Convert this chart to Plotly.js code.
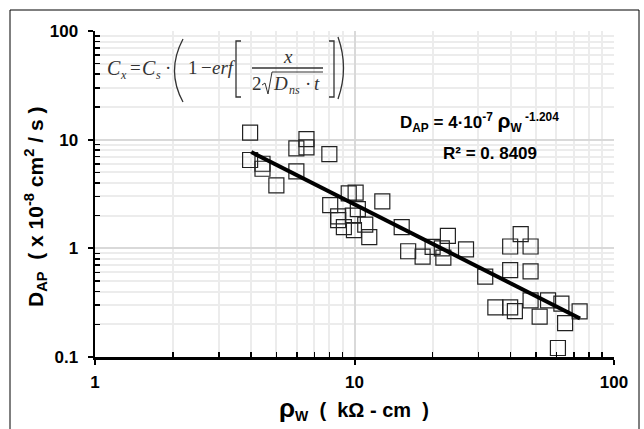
<!DOCTYPE html>
<html><head><meta charset="utf-8">
<script src="https://cdn.plot.ly/plotly-3.0.1.min.js"></script>
<style>html,body{margin:0;padding:0;background:#fff}#chart{width:644px;height:429px}</style>
</head><body><div id="chart"></div>
<script>
// ---- data ----
const rhoW = [3.96,3.96,4.42,4.42,5.0,5.97,5.97,6.53,6.53,8.0,8.06,8.65,8.65,9.1,9.5,10.1,9.85,10.3,9.95,11.0,11.4,12.8,15.2,16.1,18.3,20.0,21.7,22.0,22.9,26.9,31.9,34.9,39.8,39.8,39.8,41.5,43.7,47.7,47.7,47.7,51.7,55.7,60.8,62.7,64.8,73.7];
const dAP  = [11.6,6.5,6.0,5.4,3.8,8.3,5.1,10.1,8.5,7.35,2.5,1.97,1.82,1.57,3.2,3.25,2.0,2.3,1.47,1.65,1.27,2.7,1.57,0.94,0.84,1.03,1.0,0.82,1.3,0.98,0.55,0.286,1.04,0.63,0.286,0.264,1.35,1.04,0.615,0.332,0.235,0.332,0.121,0.31,0.205,0.263];
const trendX = [4.0, 74.0];
const trendY = [7.7, 0.226];
const xTickVals = [1, 10, 100];
const xTickText = ['1', '10', '100'];
const yTickVals = [0.1, 1, 10, 100];
const yTickText = ['0.1', '1', '10', '100'];
const fitEquation = 'D<sub>AP</sub> = 4·10<sup>-7</sup> <span style="font-size:21px">ρ</span><sub>W</sub><sup> -1.204</sup>';
const fitR2 = 'R² = 0. 8409';
const yTitle = 'D<sub>AP</sub>&nbsp;&nbsp;( x 10<sup>-8</sup> cm<sup>2</sup> / s )';
const xTitle = '<span style="font-size:26px">ρ</span><sub>W</sub>&nbsp; (&nbsp; kΩ - cm&nbsp; )';

// ---- layout helpers (pixel -> paper) ----
const L = 95, R = 614, T = 31, B = 357;
const px = x => (x - L) / (R - L);
const py = y => (B - y) / (B - T);
const SANS = 'Liberation Sans, Arial, sans-serif';
const SERIF = 'Liberation Serif, Times New Roman, serif';
const FC = '#333';

function ann(text, x, y, size, extra) {
  return Object.assign({
    text: text, xref: 'paper', yref: 'paper', x: px(x), y: py(y),
    xanchor: 'center', yanchor: 'middle', showarrow: false,
    font: {family: SERIF, size: size, color: FC}
  }, extra || {});
}
function pathOf(pts) { // pts: [[cmd, x, y, ...], ...] in pixels
  return pts.map(p => p[0] + ' ' + p.slice(1).map((v, i) => i % 2 === 0 ? px(v) : py(v)).join(' ')).join(' ');
}

const formula = [
  ann('<i>C</i>', 114, 68, 20),
  ann('<i>x</i>', 123, 75, 12),
  ann('=', 135, 67, 19),
  ann('<i>C</i>', 149, 68, 20),
  ann('<i>s</i>', 158, 75, 12),
  ann('·', 168, 67, 19),
  ann('1', 193, 67, 19),
  ann('−', 206, 67, 19),
  ann('<i>erf</i>', 224, 67, 19),
  ann('<i>x</i>', 288, 57, 19),
  ann('2', 257, 84, 19),
  ann('<i>D</i>', 280, 84, 19),
  ann('<i>ns</i>', 294, 90, 12),
  ann('·', 308, 84, 19),
  ann('<i>t</i>', 317, 84, 19)
];

const textAnns = [
  {text: fitEquation, xref: 'paper', yref: 'paper', x: px(479), y: py(122), xanchor: 'center', yanchor: 'middle', showarrow: false,
   font: {family: SANS, size: 17, color: '#000', weight: 'bold'}},
  {text: fitR2, xref: 'paper', yref: 'paper', x: px(490), y: py(153), xanchor: 'center', yanchor: 'middle', showarrow: false,
   font: {family: SANS, size: 17, color: '#000', weight: 'bold'}},
  {text: yTitle, xref: 'paper', yref: 'paper', x: px(35), y: py(207), xanchor: 'center', yanchor: 'middle', textangle: -90, showarrow: false,
   font: {family: SANS, size: 21, color: '#000', weight: 'bold'}},
  {text: xTitle, xref: 'paper', yref: 'paper', x: px(354), y: py(408), xanchor: 'center', yanchor: 'middle', showarrow: false,
   font: {family: SANS, size: 20, color: '#000', weight: 'bold'}}
];

const glyph = {color: FC, width: 1.3};
const shapes = [
  {type: 'rect', xref: 'paper', yref: 'paper', x0: px(97), x1: px(353), y0: py(102), y1: py(34),
   fillcolor: '#fff', line: {width: 0}, layer: 'between'},
  // big left parenthesis
  {type: 'path', xref: 'paper', yref: 'paper', path: pathOf([['M', 183, 39], ['Q', 166, 71, 183, 102]]), line: glyph, layer: 'above'},
  // big right parenthesis
  {type: 'path', xref: 'paper', yref: 'paper', path: pathOf([['M', 338, 37], ['Q', 349, 68, 338, 99]]), line: glyph, layer: 'above'},
  // left bracket
  {type: 'path', xref: 'paper', yref: 'paper', path: pathOf([['M', 241, 41], ['L', 236, 41], ['L', 236, 97], ['L', 241, 97]]), line: glyph, layer: 'above'},
  // right bracket
  {type: 'path', xref: 'paper', yref: 'paper', path: pathOf([['M', 329, 41], ['L', 334, 41], ['L', 334, 97], ['L', 329, 97]]), line: glyph, layer: 'above'},
  // fraction bar
  {type: 'line', xref: 'paper', yref: 'paper', x0: px(252), x1: px(323), y0: py(68), y1: py(68), line: {color: FC, width: 1.5}, layer: 'above'},
  // square-root sign
  {type: 'path', xref: 'paper', yref: 'paper', path: pathOf([['M', 262, 85], ['L', 265, 83], ['L', 268, 94], ['L', 272, 72], ['L', 323, 72]]), line: {color: FC, width: 1}, layer: 'above'},
  // outer frame
  {type: 'rect', xref: 'paper', yref: 'paper', x0: px(10), x1: px(639), y0: py(445), y1: py(10),
   line: {color: '#000', width: 1}, fillcolor: 'rgba(0,0,0,0)', layer: 'above'}
];

const minorX = [2,3,4,5,6,7,8,9,20,30,40,50,60,70,80,90];
const minorY = [0.2,0.3,0.4,0.5,0.6,0.7,0.8,0.9,2,3,4,5,6,7,8,9,20,30,40,50,60,70,80,90];

const axisCommon = {
  type: 'log', showline: true, linecolor: '#000', linewidth: 2.5,
  ticks: 'outside', ticklen: 5, tickwidth: 2, tickcolor: '#000',
  showgrid: true, gridcolor: '#d9d9d9', gridwidth: 2, zeroline: false,
  tickfont: {family: SANS, size: 17, color: '#000', weight: 'bold'}
};
const minorCommon = {ticks: 'inside', ticklen: 5, tickwidth: 1.5, tickcolor: '#000', showgrid: true, gridcolor: '#ececec', gridwidth: 2};

const traces = [
  {x: rhoW, y: dAP, type: 'scatter', mode: 'markers',
   marker: {symbol: 'square-open', size: 15, color: '#222', line: {width: 1.2}}},
  {x: trendX, y: trendY, type: 'scatter', mode: 'lines', line: {color: '#000', width: 4}}
];

const layout = {
  width: 644, height: 429, showlegend: false,
  margin: {l: L, r: 644 - R, t: T, b: 429 - B},
  paper_bgcolor: '#fff', plot_bgcolor: '#fff',
  xaxis: Object.assign({}, axisCommon, {range: [0, 2], tickvals: xTickVals, ticktext: xTickText, ticklabelstandoff: 3,
    minor: Object.assign({tickvals: minorX}, minorCommon)}),
  yaxis: Object.assign({}, axisCommon, {range: [-1, 2], tickvals: yTickVals, ticktext: yTickText, ticklabelstandoff: 6,
    minor: Object.assign({tickvals: minorY}, minorCommon)}),
  annotations: formula.concat(textAnns),
  shapes: shapes
};

Plotly.newPlot('chart', traces, layout, {displayModeBar: false, staticPlot: true});
</script>
</body></html>
